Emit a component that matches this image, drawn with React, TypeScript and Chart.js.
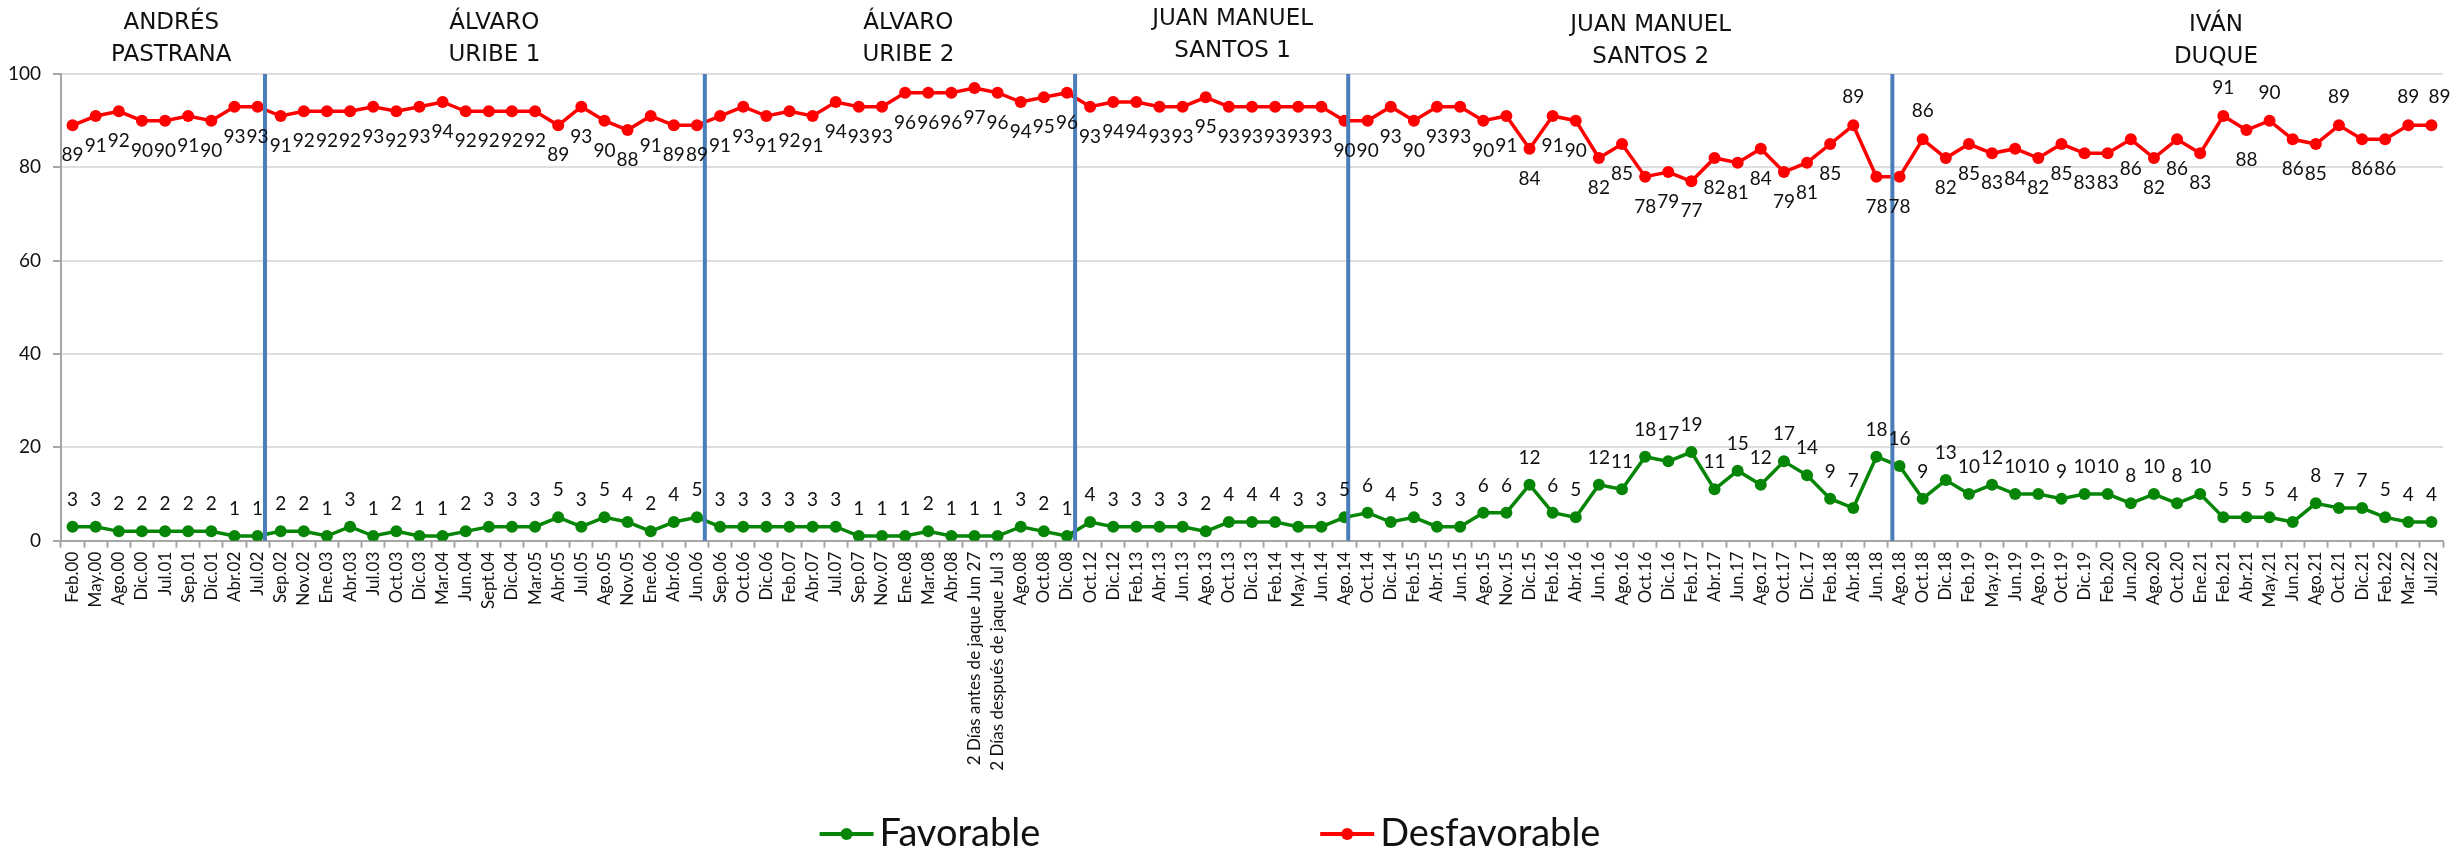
import React, { useEffect, useRef } from 'react';
import { Chart, registerables } from 'chart.js';

Chart.register(...registerables);

const categories: string[] = [
  'Feb.00', 'May.00', 'Ago.00', 'Dic.00', 'Jul.01', 'Sep.01', 'Dic.01', 'Abr.02', 'Jul.02',
  'Sep.02', 'Nov.02', 'Ene.03', 'Abr.03', 'Jul.03', 'Oct.03', 'Dic.03', 'Mar.04', 'Jun.04', 'Sept.04',
  'Dic.04', 'Mar.05', 'Abr.05', 'Jul.05', 'Ago.05', 'Nov.05', 'Ene.06', 'Abr.06', 'Jun.06',
  'Sep.06', 'Oct.06', 'Dic.06', 'Feb.07', 'Abr.07', 'Jul.07', 'Sep.07', 'Nov.07', 'Ene.08', 'Mar.08',
  'Abr.08', '2 Días antes de jaque Jun 27', '2 Días después de jaque Jul 3', 'Ago.08', 'Oct.08', 'Dic.08',
  'Oct.12', 'Dic.12', 'Feb.13', 'Abr.13', 'Jun.13', 'Ago.13', 'Oct.13', 'Dic.13', 'Feb.14', 'May.14',
  'Jun.14', 'Ago.14',
  'Oct.14', 'Dic.14', 'Feb.15', 'Abr.15', 'Jun.15', 'Ago.15', 'Nov.15', 'Dic.15', 'Feb.16', 'Abr.16',
  'Jun.16', 'Ago.16', 'Oct.16', 'Dic.16', 'Feb.17', 'Abr.17', 'Jun.17', 'Ago.17', 'Oct.17', 'Dic.17',
  'Feb.18', 'Abr.18', 'Jun.18',
  'Ago.18', 'Oct.18', 'Dic.18', 'Feb.19', 'May.19', 'Jun.19', 'Ago.19', 'Oct.19', 'Dic.19', 'Feb.20',
  'Jun.20', 'Ago.20', 'Oct.20', 'Ene.21', 'Feb.21', 'Abr.21', 'May.21', 'Jun.21', 'Ago.21', 'Oct.21',
  'Dic.21', 'Feb.22', 'Mar.22', 'Jul.22',
];

const favorable: number[] = [
  3, 3, 2, 2, 2, 2, 2, 1, 1,
  2, 2, 1, 3, 1, 2, 1, 1, 2, 3, 3, 3, 5, 3, 5, 4, 2, 4, 5,
  3, 3, 3, 3, 3, 3, 1, 1, 1, 2, 1, 1, 1, 3, 2, 1,
  4, 3, 3, 3, 3, 2, 4, 4, 4, 3, 3, 5,
  6, 4, 5, 3, 3, 6, 6, 12, 6, 5, 12, 11, 18, 17, 19, 11, 15, 12, 17, 14, 9, 7, 18,
  16, 9, 13, 10, 12, 10, 10, 9, 10, 10, 8, 10, 8, 10, 5, 5, 5, 4, 8, 7, 7, 5, 4, 4,
];

const desfavorable: number[] = [
  89, 91, 92, 90, 90, 91, 90, 93, 93,
  91, 92, 92, 92, 93, 92, 93, 94, 92, 92, 92, 92, 89, 93, 90, 88, 91, 89, 89,
  91, 93, 91, 92, 91, 94, 93, 93, 96, 96, 96, 97, 96, 94, 95, 96,
  93, 94, 94, 93, 93, 95, 93, 93, 93, 93, 93, 90,
  90, 93, 90, 93, 93, 90, 91, 84, 91, 90, 82, 85, 78, 79, 77, 82, 81, 84, 79, 81, 85, 89, 78,
  78, 86, 82, 85, 83, 84, 82, 85, 83, 83, 86, 82, 86, 83, 91, 88, 90, 86, 85, 89, 86, 86, 89, 89,
];

const yTickValues: number[] = [0, 20, 40, 60, 80, 100];

// presidential terms: title lines and centre (in category units)
const periodTitles: string[][] = [
  ['ANDRÉS', 'PASTRANA'],
  ['ÁLVARO', 'URIBE 1'],
  ['ÁLVARO', 'URIBE 2'],
  ['JUAN MANUEL', 'SANTOS 1'],
  ['JUAN MANUEL', 'SANTOS 2'],
  ['IVÁN', 'DUQUE'],
];
const periodCenters: number[] = [4.27, 18.24, 36.14, 50.16, 68.24, 92.68];
const periodTitleShift: number[] = [0, 0, 0, -4, 2, 2];

// term boundaries (in category units)
const dividers: number[] = [8.32, 27.34, 43.35, 55.16, 78.69];

// Desfavorable labels that sit above their point
const redLabelsAbove: number[] = [77, 80, 93, 95, 98, 101, 102];

const RED = '#FF0000';
const GREEN = '#078507';
const BLUE = '#4A7EBB';
const AXIS = '#A6A6A6';
const GRID = '#DEDEDE';

function catPx(x: any, v: number): number {
  const i = Math.floor(v);
  const f = v - i;
  const a = x.getPixelForValue(i);
  const b = x.getPixelForValue(i + 1);
  return a + (b - a) * f;
}

const overlayPlugin = {
  id: 'overlay',
  afterDatasetsDraw(chart: any) {
    const { ctx, scales } = chart;
    const x = scales.x;
    const y = scales.y;
    ctx.save();
    // term dividers
    ctx.strokeStyle = BLUE;
    ctx.lineWidth = 4;
    dividers.forEach((v) => {
      const p = catPx(x, v);
      ctx.beginPath();
      ctx.moveTo(p, y.getPixelForValue(100));
      ctx.lineTo(p, y.getPixelForValue(0));
      ctx.stroke();
    });

    // data labels
    ctx.font = '19px Lato';
    ctx.fillStyle = '#111';
    ctx.textAlign = 'center';
    ctx.textBaseline = 'middle';
    const metaF = chart.getDatasetMeta(0);
    const metaD = chart.getDatasetMeta(1);
    metaF.data.forEach((pt: any, i: number) => {
      ctx.fillText(String(favorable[i]), pt.x, pt.y - 27);
    });
    metaD.data.forEach((pt: any, i: number) => {
      const above = redLabelsAbove.includes(i);
      ctx.fillText(String(desfavorable[i]), pt.x + (i === 102 ? 8 : 0), above ? pt.y - 28 : pt.y + 30);
    });

    // term titles
    ctx.font = '23px "DejaVu Sans"';
    ctx.fillStyle = '#111';
    const top = chart.chartArea.top;
    periodTitles.forEach((lines, k) => {
      const cx = catPx(x, periodCenters[k]);
      const s = periodTitleShift[k];
      ctx.fillText(lines[0], cx, top - 51 + s);
      ctx.fillText(lines[1], cx, top - 19 + s);
    });

    // legend
    const items = [
      { label: 'Favorable', color: GREEN },
      { label: 'Desfavorable', color: RED },
    ];
    ctx.font = '38px Lato';
    ctx.textAlign = 'left';
    const lineLen = 54;
    const textGap = 6;
    const itemGap = 280;
    const widths = items.map((it) => lineLen + textGap + ctx.measureText(it.label).width);
    const total = widths[0] + itemGap + widths[1];
    let sx = chart.width / 2 - 18 - total / 2;
    const ly = 834;
    items.forEach((it, k) => {
      ctx.strokeStyle = it.color;
      ctx.lineWidth = 4;
      ctx.beginPath();
      ctx.moveTo(sx, ly);
      ctx.lineTo(sx + lineLen, ly);
      ctx.stroke();
      ctx.fillStyle = it.color;
      ctx.beginPath();
      ctx.arc(sx + lineLen / 2, ly, 6, 0, Math.PI * 2);
      ctx.fill();
      ctx.fillStyle = '#111';
      ctx.fillText(it.label, sx + lineLen + textGap, ly);
      sx += widths[k] + itemGap;
    });
    ctx.restore();
  },
};

export default function App() {
  const canvasRef = useRef<HTMLCanvasElement | null>(null);

  useEffect(() => {
    if (!canvasRef.current) return;
    const chart = new Chart(canvasRef.current, {
      type: 'line',
      data: {
        labels: categories,
        datasets: [
          {
            label: 'Favorable',
            data: favorable,
            borderColor: GREEN,
            backgroundColor: GREEN,
            pointBackgroundColor: GREEN,
            pointBorderWidth: 0,
            pointRadius: 6,
            borderWidth: 3.5,
            tension: 0,
          },
          {
            label: 'Desfavorable',
            data: desfavorable,
            borderColor: RED,
            backgroundColor: RED,
            pointBackgroundColor: RED,
            pointBorderWidth: 0,
            pointRadius: 6,
            borderWidth: 3.5,
            tension: 0,
          },
        ],
      },
      options: {
        responsive: false,
        animation: false,
        layout: { padding: { top: 74, right: 13, left: 0, bottom: 0 } },
        plugins: {
          legend: { display: false },
          tooltip: { enabled: false },
        },
        scales: {
          x: {
            offset: true,
            grid: {
              display: true,
              offset: true,
              drawOnChartArea: false,
              drawTicks: true,
              tickLength: 7,
              tickColor: AXIS,
              tickWidth: 2,
            },
            border: { display: true, color: AXIS, width: 2 },
            ticks: {
              autoSkip: false,
              minRotation: 90,
              maxRotation: 90,
              padding: 4,
              color: '#111',
              font: { family: 'Lato', size: 17 },
            },
            afterFit: (scale: any) => {
              scale.height = 311.3;
            },
          },
          y: {
            min: 0,
            max: 100,
            afterBuildTicks: (scale: any) => {
              scale.ticks = yTickValues.map((v) => ({ value: v }));
            },
            grid: {
              color: GRID,
              lineWidth: 2,
              tickLength: 8,
              tickColor: AXIS,
              tickWidth: 2,
            },
            border: { display: true, color: AXIS, width: 2 },
            ticks: {
              padding: 12,
              color: '#111',
              font: { family: 'Lato', size: 19 },
            },
            afterFit: (scale: any) => {
              scale.width = 61;
            },
          },
        },
      },
      plugins: [overlayPlugin],
    });
    return () => chart.destroy();
  }, []);

  return (
    <div style={{ position: 'fixed', left: 0, top: 0, width: 2456, height: 852, background: '#fff' }}>
      <canvas ref={canvasRef} width={2456} height={852} style={{ display: 'block' }} />
    </div>
  );
}
